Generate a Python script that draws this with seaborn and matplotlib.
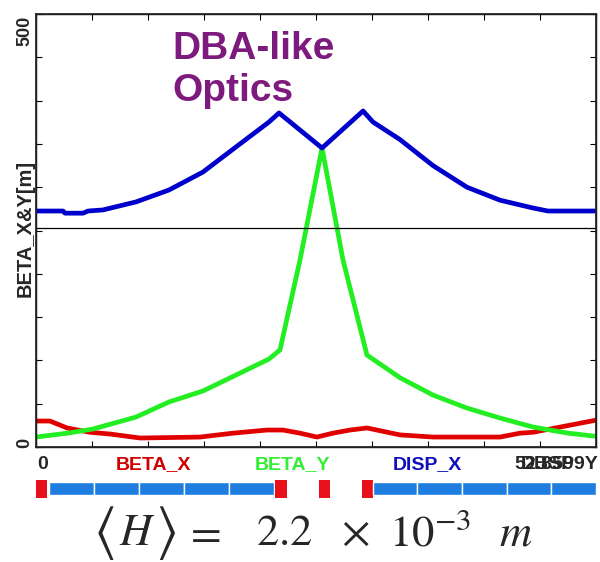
import numpy as np
import pandas as pd
import seaborn as sns
from matplotlib import pyplot as plt

# ---------------------------------------------------------------------------
#   Data (s in m)
# ---------------------------------------------------------------------------
s_bx = [0, 1.32, 2.93, 5.10, 6.98, 9.82, 15.48, 18.60, 21.80, 23.31, 24.92,
        26.52, 28.03, 29.64, 31.24, 34.36, 37.47, 43.80, 45.69, 46.91, 49.46, 52.86]
beta_x = [30, 30, 22, 17, 15, 10.4, 11.5, 16, 19.6, 19.6, 16,
          11.5, 16, 19.6, 22, 14, 11.5, 11.5, 16, 17, 23, 31]

s_by = [0, 3.11, 5.38, 9.44, 12.55, 15.76, 18.88, 21.99, 23.03, 24.92, 27.0,
        28.98, 31.24, 34.36, 37.47, 40.68, 43.80, 46.91, 50.12, 52.58, 52.86]
beta_y = [11.5, 16.2, 20.8, 34.6, 52.0, 64.7, 83.1, 101.6, 112.0, 215.9, 345.3,
          215.9, 106.2, 80.0, 60.0, 45.0, 33.5, 23.1, 16.2, 12.7, 12.5]

s_dx = [0, 2.55, 2.74, 4.44, 4.91, 6.32, 9.44, 12.55, 15.76, 18.88, 21.99, 22.94,
        27.0, 30.87, 31.81, 34.36, 37.47, 40.68, 43.80, 46.91, 48.33, 52.86]
disp_x = [0.090, 0.090, 0.080, 0.080, 0.090, 0.095, 0.132, 0.187, 0.270, 0.386, 0.501, 0.543,
          0.381, 0.552, 0.501, 0.420, 0.300, 0.200, 0.140, 0.104, 0.090, 0.090]

# lattice elements: start, length, kind
elem_start = [0, 1.2, 5.46, 9.72, 13.98, 18.24, 22.56, 26.71, 30.77,
              31.8, 36.01, 40.22, 44.43, 48.64]
elem_len = [1.0, 4.26, 4.26, 4.26, 4.26, 4.26, 1.13, 1.04, 1.0,
            4.21, 4.21, 4.21, 4.21, 4.22]
elem_kind = ['Q', 'B', 'B', 'B', 'B', 'B', 'Q', 'Q', 'Q',
             'B', 'B', 'B', 'B', 'B']

s_max = 52.859

# formula pieces and their centres (px)
formula_parts = [r'$=$', r'$2.2$', r'$\times$', r'$10^{-3}$', r'$m$']
formula_x = [202, 284, 355, 430, 516]

# ---------------------------------------------------------------------------

sns.set_theme(style='white')
plt.rcParams['font.family'] = ['Liberation Sans', 'DejaVu Sans']
plt.rcParams['mathtext.fontset'] = 'stix'

fig = plt.figure(figsize=(6.0, 5.62), dpi=100)
ax = fig.add_axes([0.06, 0.2046, 0.9333, 0.7705])

df_bx = pd.DataFrame({'s': s_bx, 'beta': beta_x})
df_by = pd.DataFrame({'s': s_by, 'beta': beta_y})
df_dx = pd.DataFrame({'s': s_dx, 'disp': disp_x})

sns.lineplot(x='s', y='beta', data=df_bx, ax=ax, color='#e00000', lw=3.4, estimator=None)
sns.lineplot(x='s', y='beta', data=df_by, ax=ax, color='#22ee22', lw=3.4, estimator=None)

ax.set_xlim(0, s_max)
ax.set_ylim(0, 500)
ax.set_yticks(np.arange(0, 501, 50))
ax.set_xticks(np.linspace(0, s_max, 11))
ax.set_yticklabels([])
ax.set_xticklabels([])
ax.set_xlabel('')
ax.set_ylabel('')
ax.tick_params(axis='both', direction='in', length=4, width=0.8, color='black',
               top=True, bottom=True, left=True, right=False)
for sp in ax.spines.values():
    sp.set_color('black')
    sp.set_linewidth(1.0)

# dispersion on its own scale
ax2 = ax.twinx()
sns.lineplot(x='s', y='disp', data=df_dx, ax=ax2, color='#0000cc', lw=3.4, estimator=None)
ax2.axhline(0.01, color='black', lw=0.9)
ax2.set_ylim(-1, 1)
ax2.set_xlim(0, s_max)
ax2.set_yticks(np.linspace(-1, 1, 11))
ax2.set_yticklabels([])
ax2.set_ylabel('')
ax2.tick_params(axis='y', direction='in', length=4, width=0.8, color='black', right=True)
ax2.grid(False)

# axis texts
fig.text(0.042, 0.972, '500', rotation=90, ha='center', va='top', fontsize=13, fontweight='bold')
fig.text(0.042, 0.203, '0', rotation=90, ha='center', va='bottom', fontsize=13, fontweight='bold')
fig.text(0.042, 0.594, 'BETA_X&Y[m]', rotation=90, ha='center', va='center', fontsize=14.5,
         fontweight='bold')

fig.text(0.287, 0.945, 'DBA-like\nOptics', ha='left', va='top', fontsize=28, fontweight='bold',
         color='#7d1a7d', linespacing=1.22)

# legend line under the axis
ly = 0.1726
fig.text(0.062, ly, '0', ha='left', va='center', fontsize=14, fontweight='bold')
fig.text(0.256, ly, 'BETA_X', ha='center', va='center', fontsize=14, fontweight='bold', color='#d00000')
fig.text(0.487, ly, 'BETA_Y', ha='center', va='center', fontsize=14, fontweight='bold', color='#33ee33')
fig.text(0.713, ly, 'DISP_X', ha='center', va='center', fontsize=14, fontweight='bold', color='#1010bb')
fig.text(0.858, ly, '52.859', ha='left', va='center', fontsize=14, fontweight='bold')
fig.text(0.998, ly, 'DBSP9Y', ha='right', va='center', fontsize=14, fontweight='bold')

# lattice bar
axl = fig.add_axes([0.06, 0.1103, 0.9333, 0.0391])
for x0, w, k in zip(elem_start, elem_len, elem_kind):
    if k == 'Q':
        axl.bar(x0, 1.6, width=w, bottom=-0.8, align='edge', color='#e8101a', edgecolor='none')
    else:
        axl.bar(x0, 1.15, width=w, bottom=-0.55, align='edge', color='#1e7ee0',
                edgecolor='white', linewidth=1.0)
axl.set_xlim(0, s_max)
axl.set_ylim(-1, 1)
axl.axis('off')

# <H> formula
fy = 1 - 545 / 562
fig.text(93 / 600, 1 - 533 / 562, r'$\langle$', ha='left', va='center', fontsize=42)
fig.text(137 / 600, fy, r'$H$', ha='center', va='baseline', fontsize=32)
fig.text(176 / 600, 1 - 533 / 562, r'$\rangle$', ha='right', va='center', fontsize=42)
for part, px in zip(formula_parts, formula_x):
    fig.text(px / 600, fy, part, ha='center', va='baseline', fontsize=32)

fig.savefig('out.png', dpi=100)
